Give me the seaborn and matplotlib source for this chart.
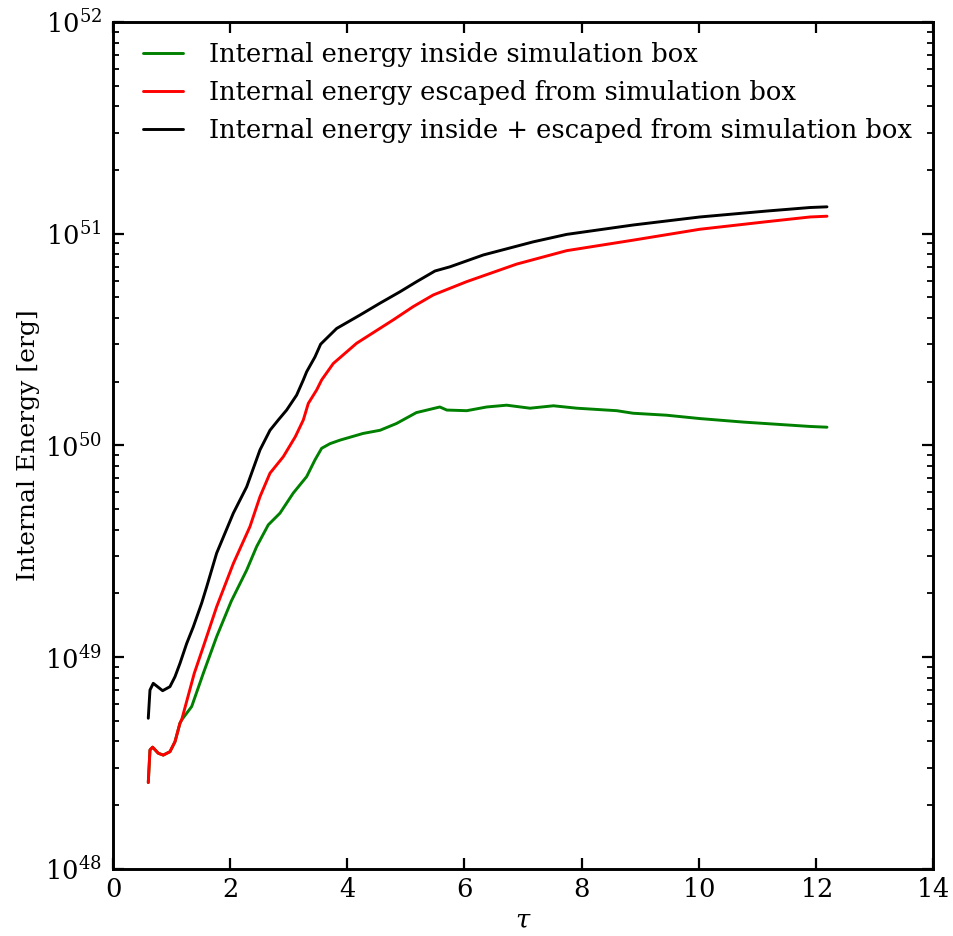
import matplotlib
matplotlib.use("Agg")
import matplotlib.pyplot as plt
import seaborn as sns
import pandas as pd

# ---- data (energies in erg) ----
tau_inside = [0.603, 0.632, 0.677, 0.774, 0.859, 0.973, 1.059, 1.144, 1.173, 1.344,
              1.542, 1.77, 2.02, 2.283, 2.453, 2.652, 2.851, 3.078, 3.307,
              3.449, 3.563, 3.705, 3.876, 4.27, 4.56, 4.84, 5.18, 5.58, 5.7, 6.04,
              6.38, 6.72, 7.12, 7.52, 7.92, 8.6, 8.88, 9.45, 10.02, 10.76, 11.9, 12.19]
e_inside = [2.56e48, 3.65e48, 3.76e48, 3.52e48, 3.45e48, 3.58e48, 3.99e48, 4.88e48,
            5.06e48, 5.85e48, 8.39e48, 1.25e49, 1.84e49, 2.58e49, 3.33e49,
            4.22e49, 4.79e49, 5.96e49, 7.13e49, 8.55e49, 9.70e49, 1.02e50, 1.06e50,
            1.14e50, 1.18e50, 1.27e50, 1.43e50, 1.52e50, 1.47e50, 1.46e50, 1.52e50,
            1.55e50, 1.50e50, 1.54e50, 1.50e50, 1.46e50, 1.42e50, 1.39e50, 1.34e50,
            1.29e50, 1.23e50, 1.22e50]

tau_escaped = [0.603, 0.632, 0.677, 0.774, 0.859, 0.973, 1.059, 1.144, 1.173, 1.388,
               1.542, 1.77, 2.055, 2.339, 2.51, 2.681, 2.908, 3.113, 3.25, 3.335,
               3.478, 3.563, 3.762, 4.16, 4.786, 5.127, 5.469, 6.039, 6.893, 7.746,
               8.884, 10.02, 11.16, 11.9, 12.19]
e_escaped = [2.56e48, 3.65e48, 3.76e48, 3.52e48, 3.45e48, 3.58e48, 3.99e48, 4.88e48,
             5.06e48, 8.39e48, 1.12e49, 1.73e49, 2.77e49, 4.14e49, 5.73e49, 7.40e49,
             8.85e49, 1.10e50, 1.32e50, 1.58e50, 1.83e50, 2.04e50, 2.44e50, 3.04e50,
             3.92e50, 4.53e50, 5.14e50, 5.94e50, 7.19e50, 8.32e50, 9.33e50, 1.05e51,
             1.14e51, 1.20e51, 1.21e51]

tau_total = [0.603, 0.632, 0.688, 0.848, 0.973, 1.059, 1.144, 1.258, 1.371, 1.514,
             1.6, 1.77, 2.055, 2.283, 2.51, 2.681, 2.823, 2.965, 3.136, 3.25, 3.307,
             3.449, 3.546, 3.819, 4.217, 4.559, 4.9, 5.185, 5.498, 5.754, 6.323,
             7.177, 7.746, 8.884, 10.02, 11.16, 11.9, 12.19]
e_total = [5.15e48, 7.00e48, 7.53e48, 6.95e48, 7.26e48, 8.09e48, 9.35e48, 1.16e49,
           1.39e49, 1.80e49, 2.15e49, 3.10e49, 4.79e49, 6.38e49, 9.53e49, 1.18e50,
           1.32e50, 1.47e50, 1.73e50, 2.04e50, 2.23e50, 2.62e50, 3.01e50, 3.57e50,
           4.13e50, 4.70e50, 5.32e50, 5.94e50, 6.67e50, 6.98e50, 7.94e50, 9.16e50,
           9.93e50, 1.10e51, 1.20e51, 1.28e51, 1.33e51, 1.34e51]

labels = ["Internal energy inside simulation box",
          "Internal energy escaped from simulation box",
          "Internal energy inside + escaped from simulation box"]
colors = ["green", "red", "black"]
xticks = [0, 2, 4, 6, 8, 10, 12, 14]

sns.set_style("ticks")
plt.rcParams["font.family"] = ["DejaVu Serif"]
plt.rcParams["mathtext.fontset"] = "dejavuserif"
plt.rcParams["text.color"] = "black"
plt.rcParams["axes.labelcolor"] = "black"
plt.rcParams["xtick.color"] = "black"
plt.rcParams["ytick.color"] = "black"

FS = 18.5

fig = plt.figure(figsize=(9.54, 9.36), dpi=100)
ax = fig.add_axes([0.1184, 0.0716, 0.8596, 0.9049])

series = [(tau_inside, e_inside), (tau_escaped, e_escaped), (tau_total, e_total)]
for (t, e), lab, c in zip(series, labels, colors):
    df = pd.DataFrame({"tau": t, "E": e})
    sns.lineplot(data=df, x="tau", y="E", ax=ax, color=c, lw=2.1, label=lab,
                 sort=False, estimator=None)

ax.set_yscale("log")
ax.set_xlim(0, 14)
ax.set_ylim(1e48, 1e52)
ax.set_xticks(xticks)
ax.set_xticklabels([f"${v}$" for v in xticks])
ax.set_xlabel(r"$\tau$", fontsize=FS, labelpad=4)
ax.set_ylabel("Internal Energy [erg]", fontsize=18, labelpad=4)

for s in ax.spines.values():
    s.set_linewidth(2.1)
    s.set_color("black")
ax.tick_params(which="both", direction="in", top=True, right=True)
ax.tick_params(axis="x", which="major", length=8, width=1.6, labelsize=FS, pad=6)
ax.tick_params(axis="y", which="major", length=8, width=1.6, labelsize=FS, pad=8)
ax.tick_params(axis="y", which="minor", length=4, width=1.3)
ax.tick_params(axis="x", which="minor", bottom=False, top=False)

leg = ax.legend(loc="upper left", bbox_to_anchor=(0.024, 0.988), frameon=False,
                fontsize=FS, handlelength=1.56, borderaxespad=0.0,
                labelspacing=0.5, handletextpad=1.0)
for l in leg.get_lines():
    l.set_linewidth(2.1)

fig.savefig("out.png", dpi=100)
